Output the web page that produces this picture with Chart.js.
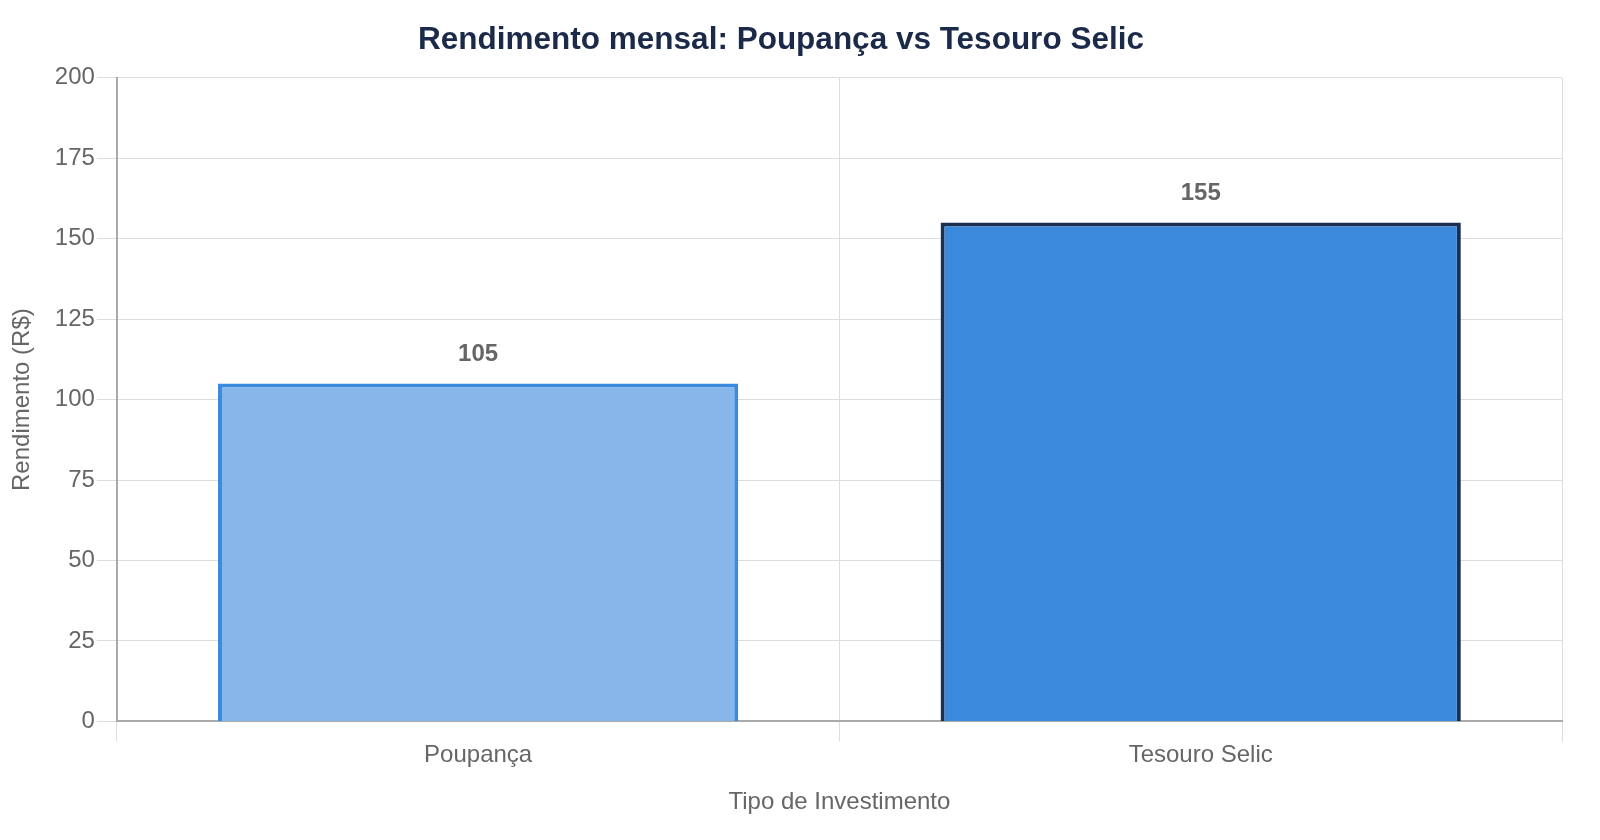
<!DOCTYPE html>
<html>
<head>
<meta charset="utf-8">
<script src="https://cdn.jsdelivr.net/npm/chart.js@4/dist/chart.umd.min.js"></script>
<style>
  html, body { margin: 0; padding: 0; background: #fff; }
  #wrap { width: 1600px; height: 840px; }
</style>
</head>
<body>
<div id="wrap"><canvas id="graph"></canvas></div>
<script>
let categories = ['Poupança', 'Tesouro Selic']
let rendimento = [105, 155]
let fillColors = ['#87b6ea', '#3a89dd']
let borderColors = ['#3a8ade', '#1b2f52']

// labels above each bar
const valueLabels = {
  id: 'valueLabels',
  afterDatasetsDraw(chart) {
    let ctx = chart.ctx
    let meta = chart.getDatasetMeta(0)
    ctx.save()
    ctx.font = 'bold 24px "Liberation Sans", Arial, sans-serif'
    ctx.fillStyle = '#666666'
    ctx.textAlign = 'center'
    ctx.textBaseline = 'bottom'
    meta.data.forEach((bar, i) => {
      ctx.fillText(rendimento[i], bar.x, bar.y - 17)
    })
    ctx.restore()
  }
}

Chart.defaults.font.family = '"Liberation Sans", Arial, sans-serif'
Chart.defaults.color = '#666666'

new Chart(document.getElementById('graph'), {
  type: 'bar',
  data: {
    labels: categories,
    datasets: [{
      label: 'Rendimento',
      data: rendimento,
      backgroundColor: fillColors,
      borderColor: borderColors,
      borderWidth: 4,
      borderSkipped: 'bottom'
    }]
  },
  options: {
    responsive: true,
    maintainAspectRatio: false,
    animation: false,
    layout: {
      padding: { left: 0, right: 38, top: 0, bottom: 17 }
    },
    plugins: {
      legend: { display: false },
      tooltip: { enabled: false },
      title: {
        display: true,
        text: 'Rendimento mensal: Poupança vs Tesouro Selic',
        color: '#1c2a4a',
        font: { size: 31.5, weight: 'bold' },
        padding: { top: 21, bottom: 19 }
      }
    },
    scales: {
      x: {
        grid: {
          color: '#dddddd',
          tickLength: 20,
          offset: true
        },
        border: { color: '#aaaaaa', width: 2 },
        ticks: {
          color: '#666666',
          font: { size: 24 },
          padding: 0
        },
        title: {
          display: true,
          text: 'Tipo de Investimento',
          color: '#666666',
          font: { size: 24 },
          padding: { top: 18, bottom: 6 }
        }
      },
      y: {
        min: 0,
        max: 200,
        ticks: {
          stepSize: 25,
          color: '#666666',
          font: { size: 24 },
          padding: 2
        },
        grid: {
          color: '#dddddd',
          tickLength: 20
        },
        border: { color: '#aaaaaa', width: 2 },
        title: {
          display: true,
          text: 'Rendimento (R$)',
          color: '#666666',
          font: { size: 24 },
          padding: { top: 8, bottom: 16 }
        }
      }
    }
  },
  plugins: [valueLabels]
})
</script>
</body>
</html>
